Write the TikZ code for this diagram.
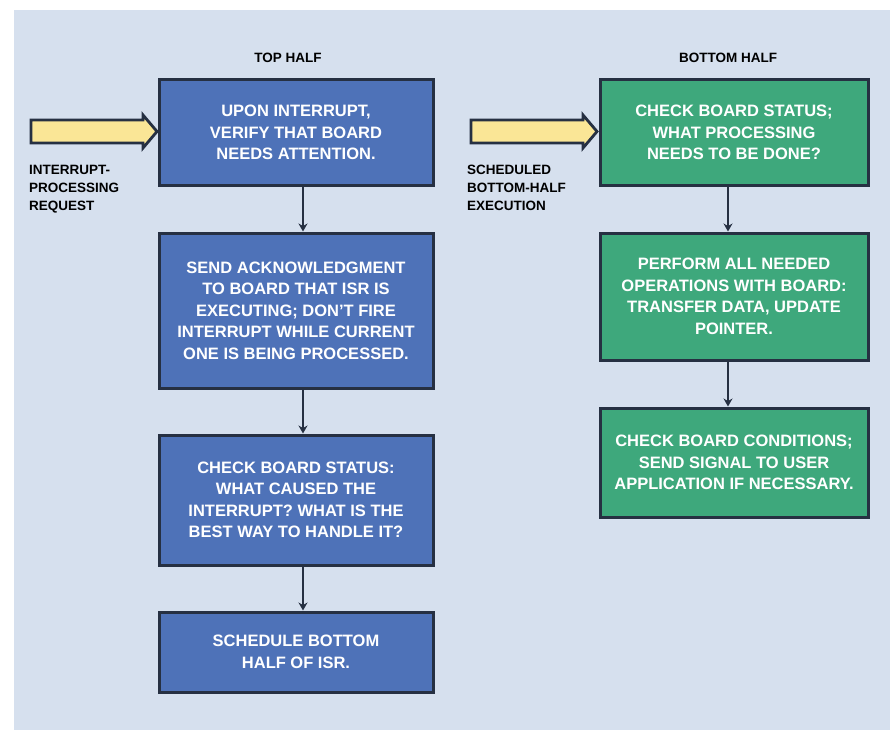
\documentclass[tikz,border=0pt]{standalone}
\usepackage{fontspec}
\setmainfont{Liberation Sans}
\usetikzlibrary{arrows.meta}
\definecolor{bg}{RGB}{214,224,238}
\definecolor{boxblue}{RGB}{78,114,184}
\definecolor{boxgreen}{RGB}{62,168,124}
\definecolor{edge}{RGB}{38,48,66}
\definecolor{arrowyellow}{RGB}{250,230,150}
\tikzset{
  stepbox/.style={draw=edge, line width=3pt, text=white, align=center,
    font=\fontsize{16.5}{21.5}\selectfont\bfseries, inner sep=0pt},
  bluebox/.style={stepbox, fill=boxblue},
  greenbox/.style={stepbox, fill=boxgreen},
  flow/.style={draw=edge, line width=2.6pt, -{Stealth[length=8pt,width=9pt]}},
  blockarrow/.style={draw=edge, line width=2.8pt, fill=arrowyellow, line join=miter},
  lab/.style={font=\fontsize{13.5}{18}\selectfont\bfseries, text=black, align=left, inner sep=0pt},
  titlelab/.style={font=\fontsize{13.5}{16}\selectfont\bfseries, text=black, inner sep=0pt}
}
\begin{document}
\begin{tikzpicture}[x=1pt,y=-1pt]
\useasboundingbox (0,0) rectangle (890,730);
\fill[white] (0,0) rectangle (890,730);
\fill[bg] (14,10) rectangle (890,730);

\node[titlelab] (t1) at (288,58) {TOP HALF};
\node[titlelab] (t2) at (728,58) {BOTTOM HALF};

\node[bluebox, minimum width=274pt, minimum height=105pt] (b1) at (296,132.5)
  {UPON INTERRUPT,\\VERIFY THAT BOARD\\NEEDS ATTENTION.};
\node[bluebox, minimum width=274pt, minimum height=155pt] (b2) at (296,310.5)
  {SEND ACKNOWLEDGMENT\\TO BOARD THAT ISR IS\\EXECUTING; DON'T FIRE\\INTERRUPT WHILE CURRENT\\ONE IS BEING PROCESSED.};
\node[bluebox, minimum width=274pt, minimum height=130pt] (b3) at (296,500)
  {CHECK BOARD STATUS:\\WHAT CAUSED THE\\INTERRUPT? WHAT IS THE\\BEST WAY TO HANDLE IT?};
\node[bluebox, minimum width=274pt, minimum height=80pt] (b4) at (296,652)
  {SCHEDULE BOTTOM\\HALF OF ISR.};

\node[greenbox, minimum width=268pt, minimum height=105pt] (g1) at (734,132.5)
  {CHECK BOARD STATUS;\\WHAT PROCESSING\\NEEDS TO BE DONE?};
\node[greenbox, minimum width=268pt, minimum height=127pt] (g2) at (734,296.5)
  {PERFORM ALL NEEDED\\OPERATIONS WITH BOARD:\\TRANSFER DATA, UPDATE\\POINTER.};
\node[greenbox, minimum width=268pt, minimum height=109pt] (g3) at (734,462.5)
  {CHECK BOARD CONDITIONS;\\SEND SIGNAL TO USER\\APPLICATION IF NECESSARY.};

\coordinate (ax) at (303,0);
\coordinate (gx) at (728,0);
\draw[flow] (b1.south -| ax) -- (b2.north -| ax);
\draw[flow] (b2.south -| ax) -- (b3.north -| ax);
\draw[flow] (b3.south -| ax) -- (b4.north -| ax);
\draw[flow] (g1.south -| gx) -- (g2.north -| gx);
\draw[flow] (g2.south -| gx) -- (g3.north -| gx);

\draw[blockarrow] (31,120) -- (143,120) -- (143,115) -- (157,131.5) -- (143,148) -- (143,143) -- (31,143) -- cycle;
\draw[blockarrow] (471,120) -- (583,120) -- (583,115) -- (597,131.5) -- (583,148) -- (583,143) -- (471,143) -- cycle;

\node[lab, anchor=north west] (l1) at (29,165) {INTERRUPT-\\PROCESSING\\REQUEST};
\node[lab, anchor=north west] (l2) at (467,165) {SCHEDULED\\BOTTOM-HALF\\EXECUTION};
\end{tikzpicture}
\end{document}
